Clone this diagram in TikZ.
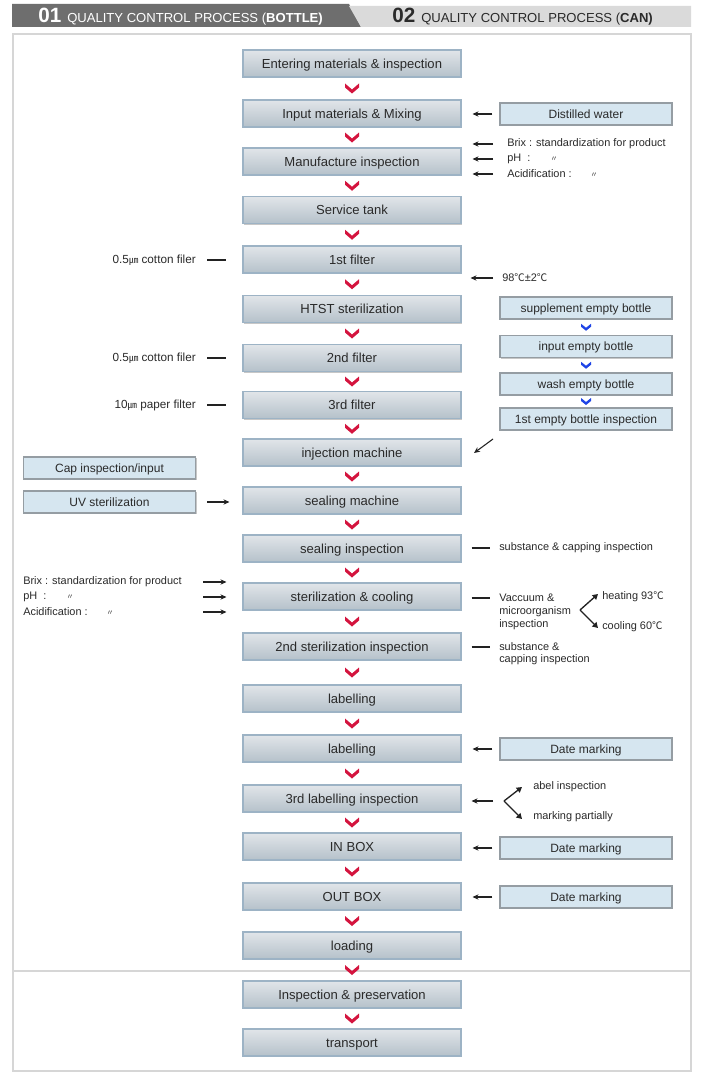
\documentclass[tikz,border=0pt]{standalone}
\usepackage{fontspec}
\setmainfont{Liberation Sans}
\newfontfamily\cjk{Noto Sans CJK KR}
\usetikzlibrary{arrows.meta,shadows,calc}
\definecolor{boxtop}{HTML}{E1E5E9}
\definecolor{boxbot}{HTML}{B5C1CA}
\definecolor{boxedge}{HTML}{9DB3C5}
\definecolor{sidefill}{HTML}{D6E6F0}
\definecolor{sideedge}{HTML}{959DA3}
\definecolor{chevred}{HTML}{D4143E}
\definecolor{chevblue}{HTML}{1E44E6}
\definecolor{txt}{HTML}{2A2A2A}
\definecolor{arrc}{HTML}{222222}
\definecolor{hdrdark}{HTML}{6E6E6E}
\definecolor{hdrlight}{HTML}{DADADA}
\definecolor{framec}{HTML}{D6D6D6}
\newcommand{\dit}{{\cjk\fontsize{5.5}{6}\selectfont 〃}}
\newcommand{\um}{{\cjk\fontsize{7}{8}\selectfont ㎛}}
\newcommand{\dgc}{{\cjk\fontsize{7.8}{8}\selectfont ℃}}
\begin{document}
\begin{tikzpicture}[x=0.75pt,y=-0.75pt,
  mainbox/.style={draw=boxedge, line width=0.8pt, top color=boxtop, bottom color=boxbot,
    minimum width=163.5pt, minimum height=20.25pt, inner sep=0pt,
    text height=8.4pt, text depth=1.6pt,
    font=\fontsize{9.8}{11}\selectfont, text=txt,
    drop shadow={shadow xshift=0.9pt, shadow yshift=-0.9pt, opacity=0.22, fill=black}},
  sidebox/.style={draw=sideedge, line width=0.8pt, fill=sidefill,
    minimum width=129pt, minimum height=16.5pt, inner sep=0pt,
    text height=7.6pt, text depth=1.4pt,
    font=\fontsize{9}{11}\selectfont, text=txt,
    drop shadow={shadow xshift=0.9pt, shadow yshift=-0.9pt, opacity=0.22, fill=black}},
  note/.style={font=\fontsize{8.2}{9}\selectfont, text=txt, inner sep=0pt, anchor=west},
  rnote/.style={font=\fontsize{8.8}{10}\selectfont, text=txt, inner sep=0pt, anchor=east},
  arr/.style={-{Stealth[length=4.5pt,width=4pt]}, line width=0.8pt, draw=arrc},
  brk/.style={-{Triangle[length=4pt,width=4.5pt]}, line width=1pt, draw=arrc},
  tick/.style={line width=2pt, draw=arrc},
  redchev/.pic={\fill[chevred] (-7,-5) -- (0,1) -- (7,-5) -- (7,-1) -- (0,5) -- (-7,-1) -- cycle;},
  bluechev/.pic={\fill[chevblue] (-5,-3.5) -- (0,0.5) -- (5,-3.5) -- (5,-0.5) -- (0,3.5) -- (-5,-0.5) -- cycle;}
]
\useasboundingbox (0,0) rectangle (704,1074);
\fill[white] (0,0) rectangle (704,1074);
% header tabs
\fill[hdrdark] (12,4) -- (349,4) -- (361,27) -- (12,27) -- cycle;
\fill[hdrlight] (349,6) -- (691,6) -- (691,27) -- (361,27) -- cycle;
\node[anchor=base west, inner sep=0pt, text=white] (h1) at (38,23)
  {{\fontsize{15.5}{16}\selectfont\bfseries 01}\hspace{4.5pt}{\fontsize{9.8}{10}\selectfont QUALITY CONTROL PROCESS (\textbf{BOTTLE)}}};
\node[anchor=base west, inner sep=0pt, text=txt] (h2) at (392,23)
  {{\fontsize{15.5}{16}\selectfont\bfseries 02}\hspace{4.5pt}{\fontsize{9.8}{10}\selectfont QUALITY CONTROL PROCESS (\textbf{CAN)}}};
% frame
\draw[framec, line width=0.8pt] (13,34) rectangle (691,1071);
\draw[framec, line width=0.8pt] (13,971) -- (691,971);
% main boxes
\node[mainbox] (m1) at (352,63.5) {Entering materials \& inspection};
\node[mainbox] (m2) at (352,113.5) {Input materials \& Mixing};
\node[mainbox] (m3) at (352,161.5) {Manufacture inspection};
\node[mainbox] (m4) at (352,210) {Service tank};
\node[mainbox] (m5) at (352,259.5) {1st filter};
\node[mainbox] (m6) at (352,309) {HTST sterilization};
\node[mainbox] (m7) at (352,358) {2nd filter};
\node[mainbox] (m8) at (352,405) {3rd filter};
\node[mainbox] (m9) at (352,452.5) {injection machine};
\node[mainbox] (m10) at (352,500.5) {sealing machine};
\node[mainbox] (m11) at (352,548.5) {sealing inspection};
\node[mainbox] (m12) at (352,596.5) {sterilization \& cooling};
\node[mainbox] (m13) at (352,646.5) {2nd sterilization inspection};
\node[mainbox] (m14) at (352,698.5) {labelling};
\node[mainbox] (m15) at (352,748.5) {labelling};
\node[mainbox] (m16) at (352,798.5) {3rd labelling inspection};
\node[mainbox] (m17) at (352,846.5) {IN BOX};
\node[mainbox] (m18) at (352,896.5) {OUT BOX};
\node[mainbox] (m19) at (352,945.5) {loading};
\node[mainbox] (m20) at (352,994.5) {Inspection \& preservation};
\node[mainbox] (m21) at (352,1042.5) {transport};
\foreach \a/\b in {m1/m2,m2/m3,m3/m4,m4/m5,m5/m6,m6/m7,m7/m8,m8/m9,m9/m10,m10/m11,m11/m12,m12/m13,m13/m14,m14/m15,m15/m16,m16/m17,m17/m18,m18/m19,m19/m20,m20/m21}
  \path ($(\a.south)!0.5!(\b.north)$) pic {redchev};
% right side boxes
\node[sidebox] (dw) at (586,114) {Distilled water};
\node[sidebox] (s1) at (586,308) {supplement empty bottle};
\node[sidebox] (s2) at (586,346.5) {input empty bottle};
\node[sidebox] (s3) at (586,384) {wash empty bottle};
\node[sidebox] (s4) at (586,419) {1st empty bottle inspection};
\node[sidebox] (d1) at (586,749) {Date marking};
\node[sidebox] (d2) at (586,848) {Date marking};
\node[sidebox] (d3) at (586,897) {Date marking};
\foreach \a/\b in {s1/s2,s2/s3,s3/s4}
  \path ($(\a.south)!0.5!(\b.north)$) pic {bluechev};
% left side boxes
\node[sidebox] (cap) at (109.5,468) {Cap inspection/input};
\node[sidebox] (uv) at (109.5,502) {UV sterilization};
% arrows into main column from right boxes
\draw[arr, shorten <=5.25pt, shorten >=8.25pt] (dw.west) -- (dw.west -| m2.east);
\foreach \d/\m in {d1/m15,d2/m17,d3/m18}
  \draw[arr, shorten <=5.25pt, shorten >=8.25pt] (\d.west) -- (\d.west -| \m.east);
% Brix notes (right)
\node[note] (b1) at (507,144) {Brix : standardization for product};
\node[note] (b2) at (507,159) {pH\ \ :\hspace{15pt}\dit};
\node[note] (b3) at (507,174) {Acidification :\hspace{14pt}\dit};
\foreach \b in {b1,b2,b3}
  \draw[arr, shorten <=10.5pt, shorten >=8.25pt] (\b.west) -- (\b.west -| m3.east);
% 98C note
\node[note] (t98) at (502,278) {98\dgc{}±2\dgc};
\draw[arr, shorten <=6.75pt, shorten >=6.75pt] (t98.west) -- (t98.west -| m5.east);
% left filter notes
\node[rnote] (cf1) at (196,260) {0.5\um{} cotton filer};
\node[rnote] (cf2) at (196,358) {0.5\um{} cotton filer};
\node[rnote] (pf) at (196,405) {10\um{} paper filter};
\draw[tick, shorten <=8.25pt, shorten >=12pt] (cf1.east) -- (cf1.east -| m5.west);
\draw[tick, shorten <=8.25pt, shorten >=12pt] (cf2.east) -- (cf2.east -| m7.west);
\draw[tick, shorten <=8.25pt, shorten >=12pt] (pf.east) -- (pf.east -| m8.west);
% injection diagonal arrow
\coordinate (inja) at (493,439);
\coordinate (injb) at (474,453);
\draw[arr] (inja) -- (injb);
% UV arrow
\draw[arr, shorten <=8.25pt, shorten >=9.75pt] (uv.east) -- (uv.east -| m10.west);
% left Brix notes
\coordinate (lx) at (203,0);
\node[note] (lb1) at (23,582) {Brix : standardization for product};
\node[note] (lb2) at (23,597) {pH\ \ :\hspace{15pt}\dit};
\node[note] (lb3) at (23,612) {Acidification :\hspace{14pt}\dit};
\foreach \b in {lb1,lb2,lb3}
  \draw[arr, shorten >=12pt] (\b.west -| lx) -- (\b.west -| m12.west);
% sealing inspection note
\node[note] (sc1) at (499,548) {substance \& capping inspection};
\draw[tick, shorten <=7.5pt, shorten >=6.75pt] (sc1.west -| m11.east) -- (sc1.west);
% vacuum note
\node[note] (v1) at (499,598) {Vaccuum \&};
\node[note] (v2) at (499,612) {microorganism};
\node[note] (v3) at (499,625) {inspection};
\draw[tick, shorten <=7.5pt, shorten >=6.75pt] (v1.west -| m12.east) -- (v1.west);
\node[note] (heat) at (602,597) {heating 93\dgc};
\node[note] (cool) at (602,627) {cooling 60\dgc};
\coordinate (ap1) at (580,610);
\draw[brk] (ap1) -- ([shift={(-4,-3)}]heat.west);
\draw[brk] (ap1) -- ([shift={(-4,1)}]cool.west);
% 2nd sterilization note
\node[note] (sc2a) at (499,647) {substance \&};
\node[note] (sc2b) at (499,660) {capping inspection};
\draw[tick, shorten <=7.5pt, shorten >=6.75pt] (sc2a.west -| m13.east) -- (sc2a.west);
% 3rd labelling inspection
\coordinate (ap2) at (504,801);
\node[note] (ab) at (533,787) {abel inspection};
\node[note] (mp) at (533,817) {marking partially};
\draw[arr, shorten <=8.25pt, shorten >=7.5pt] (ap2) -- (ap2 -| m16.east);
\draw[brk] (ap2) -- ([shift={(-11,0)}]ab.west);
\draw[brk] (ap2) -- ([shift={(-11,2)}]mp.west);
\end{tikzpicture}
\end{document}
